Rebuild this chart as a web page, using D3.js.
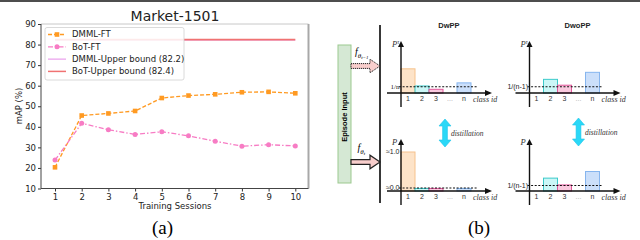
<!doctype html>
<html lang="en">
<head>
<meta charset="utf-8">
<script src="https://d3js.org/d3.v7.min.js"></script>
<style>
    html, body {
        margin: 0;
        padding: 0;
        background: #fff;
    }
    svg { display: block; }
    .chart text { font-family: "DejaVu Sans", sans-serif; fill: #222; }
    .sans { font-family: "Liberation Sans", Arial, sans-serif; }
    .serif { font-family: "Liberation Serif", "Times New Roman", serif; font-style: italic; }
</style>
</head>
<body>
<svg id="svg" width="640" height="240"></svg>
<script>
    // (a) mAP over training sessions
    var sessions = [1, 2, 3, 4, 5, 6, 7, 8, 9, 10];
    var dmmlFT = [20.3, 45.5, 46.5, 47.7, 54.0, 55.2, 55.8, 56.8, 57.0, 56.3];
    var botFT = [23.8, 41.7, 38.6, 36.3, 37.6, 35.6, 33.0, 30.6, 31.3, 30.7];
    var dmmlUpper = 82.2;
    var botUpper = 82.4;
    var yTicks = [10, 20, 30, 40, 50, 60, 70, 80, 90];
    var legendLabels = ["DMML-FT", "BoT-FT", "DMML-Upper bound (82.2)", "BoT-Upper bound (82.4)"];

    // (b) sketched class probabilities (null = no bar)
    var classIds = ["1", "2", "3", "...", "n"];
    var dwppTop = [0.62, 0.18, 0.095, null, 0.26];
    var dwoppTop = [null, 0.35, 0.2, null, 0.53];
    var dwppBottom = [1.0, 0.065, 0.065, null, 0.065];
    var dwoppBottom = [null, 0.33, 0.155, null, 0.5];

    var svg = d3.select("#svg");

    svg.append("rect").attr("x", 0).attr("y", 0).attr("width", 640).attr("height", 2).attr("fill", "#4d4d4d");

    // ---------------- (a) line chart ----------------
    var chart = svg.append("g").attr("class", "chart");
    var x = d3.scaleLinear().domain([1, 10]).range([55, 295.3]);
    var y = d3.scaleLinear().domain([10, 90]).range([188.5, 24]);

    var colOrange = "#ff9a22", colPink = "#f77cc4", colViolet = "#e58ae8", colRed = "#f07272";

    chart.append("text").attr("x", 175).attr("y", 20.5).attr("text-anchor", "middle")
        .style("font-size", "14px").text("Market-1501");

    var yAxis = chart.append("g").attr("transform", "translate(41,0)")
        .call(d3.axisLeft(y).tickValues(yTicks).tickSize(3).tickPadding(2));
    var xAxis = chart.append("g").attr("transform", "translate(0,188.5)")
        .call(d3.axisBottom(x).tickValues(sessions).tickSize(3).tickPadding(2.5));
    [yAxis, xAxis].forEach(function (a) {
        a.select(".domain").remove();
        a.selectAll("line").attr("stroke", "#333");
        a.selectAll("text").style("font-size", "8.5px").attr("fill", "#222")
            .style("font-family", "DejaVu Sans, sans-serif");
    });

    // frame
    chart.append("line").attr("x1", 41).attr("x2", 308.5).attr("y1", 24).attr("y2", 24).attr("stroke", "#c8c8c8");
    chart.append("line").attr("x1", 308.5).attr("x2", 308.5).attr("y1", 24).attr("y2", 188.5).attr("stroke", "#a8a8a8").attr("stroke-width", 2);
    chart.append("line").attr("x1", 41).attr("x2", 41).attr("y1", 24).attr("y2", 188.5).attr("stroke", "#444");
    chart.append("line").attr("x1", 41).attr("x2", 308.5).attr("y1", 188.5).attr("y2", 188.5).attr("stroke", "#444");

    chart.append("text").attr("transform", "translate(21.5,106) rotate(-90)").attr("text-anchor", "middle")
        .style("font-size", "8.5px").text("mAP (%)");
    chart.append("text").attr("x", 175).attr("y", 209).attr("text-anchor", "middle")
        .style("font-size", "8.5px").text("Training Sessions");

    var line = d3.line().x(function (d, i) { return x(sessions[i]); }).y(function (d) { return y(d); });

    chart.append("path").datum(dmmlFT).attr("d", line).attr("fill", "none")
        .attr("stroke", colOrange).attr("stroke-width", 1.3).attr("stroke-dasharray", "4,2");
    chart.selectAll(".sq").data(dmmlFT).enter().append("rect")
        .attr("x", function (d, i) { return x(sessions[i]) - 2.3; })
        .attr("y", function (d) { return y(d) - 2.3; })
        .attr("width", 4.6).attr("height", 4.6).attr("fill", colOrange);

    chart.append("path").datum(botFT).attr("d", line).attr("fill", "none")
        .attr("stroke", colPink).attr("stroke-width", 1.3).attr("stroke-dasharray", "5,2,1.5,2");
    chart.selectAll(".ci").data(botFT).enter().append("circle")
        .attr("cx", function (d, i) { return x(sessions[i]); })
        .attr("cy", function (d) { return y(d); })
        .attr("r", 2.5).attr("fill", colPink);

    chart.append("line").attr("x1", x(1)).attr("x2", x(10)).attr("y1", y(dmmlUpper)).attr("y2", y(dmmlUpper))
        .attr("stroke", colViolet).attr("stroke-width", 0.9);
    chart.append("line").attr("x1", x(1)).attr("x2", x(10)).attr("y1", y(botUpper)).attr("y2", y(botUpper))
        .attr("stroke", colRed).attr("stroke-width", 1.6);

    // legend
    var lg = chart.append("g");
    lg.append("rect").attr("x", 45).attr("y", 27.5).attr("width", 139).attr("height", 52.5).attr("rx", 2)
        .attr("fill", "#fff").attr("fill-opacity", 0.85).attr("stroke", "#d0d0d0").attr("stroke-width", 0.8);
    var legendStyle = [
        {c: colOrange, dash: "4,2", mark: "sq", w: 1.3},
        {c: colPink, dash: "5,2,1.5,2", mark: "ci", w: 1.3},
        {c: colViolet, dash: null, mark: null, w: 1},
        {c: colRed, dash: null, mark: null, w: 1.5}
    ];
    legendLabels.forEach(function (lab, i) {
        var ly = 34.5 + i * 12.3, s = legendStyle[i];
        lg.append("line").attr("x1", 48).attr("x2", 66).attr("y1", ly).attr("y2", ly)
            .attr("stroke", s.c).attr("stroke-width", s.w).attr("stroke-dasharray", s.dash);
        if (s.mark === "sq") lg.append("rect").attr("x", 54.7).attr("y", ly - 2.3).attr("width", 4.6).attr("height", 4.6).attr("fill", s.c);
        if (s.mark === "ci") lg.append("circle").attr("cx", 57).attr("cy", ly).attr("r", 2.5).attr("fill", s.c);
        lg.append("text").attr("x", 72).attr("y", ly).attr("dy", "0.35em").style("font-size", "8.5px").text(lab);
    });

    svg.append("text").attr("x", 162.5).attr("y", 234).attr("text-anchor", "middle")
        .style("font-family", "Liberation Serif, Times New Roman, serif").style("font-size", "19px").text("(a)");

    // ---------------- (b) diagram ----------------
    var diag = svg.append("g");
    var classFill = ["#fde3c8", "#cbf7f7", "#f9c9de", null, "#cbdffa"];
    var classStroke = ["#f6c28d", "#3ccaca", "#e2579b", null, "#86b5ee"];

    // episode input box
    diag.append("rect").attr("x", 338).attr("y", 45).attr("width", 13).attr("height", 138)
        .attr("fill", "#d5e8d4").attr("stroke", "#9cc98f").attr("stroke-width", 1);
    diag.append("text").attr("class", "sans").attr("transform", "translate(347.3,117) rotate(-90)")
        .attr("text-anchor", "middle").style("font-size", "7.5px").style("font-weight", "bold").text("Episode Input");

    diag.append("line").attr("x1", 380).attr("x2", 380).attr("y1", 25).attr("y2", 203)
        .attr("stroke", "#222").attr("stroke-width", 1.8);

    function blockArrow(x1, x2, yc, dashed) {
        var sh = 2.4, hh = 6.8, hl = 10;
        var p = d3.path();
        p.moveTo(x1, yc - sh); p.lineTo(x2 - hl, yc - sh); p.lineTo(x2 - hl, yc - hh); p.lineTo(x2, yc);
        p.lineTo(x2 - hl, yc + hh); p.lineTo(x2 - hl, yc + sh); p.lineTo(x1, yc + sh); p.closePath();
        diag.append("path").attr("d", p.toString()).attr("fill", "#f8cecc").attr("stroke", "#222")
            .attr("stroke-width", dashed ? 1 : 1.2).attr("stroke-dasharray", dashed ? "1.2,0.8" : null);
    }
    blockArrow(351, 380, 66, true);
    blockArrow(351, 380, 162, false);

    function fLabel(xp, yp, sub) {
        var t = diag.append("text").attr("class", "serif").attr("x", xp).attr("y", yp).style("font-size", "10px");
        t.append("tspan").text("f");
        t.append("tspan").attr("dy", 2.5).style("font-size", "7px").text("θ");
        t.append("tspan").attr("dy", 1.5).style("font-size", "5px").text(sub);
    }
    fLabel(355, 55, "t−1");
    fLabel(357.5, 151, "t");

    function drawPanel(cfg) {
        var g = diag.append("g");
        var xb = d3.scaleBand().domain(classIds).range([cfg.x0, cfg.x0 + 70]);
        var yp = d3.scaleLinear().domain([0, 1]).range([cfg.axisY, cfg.axisY - 39]);

        cfg.values.forEach(function (v, i) {
            if (v === null) return;
            g.append("rect").attr("x", xb(classIds[i])).attr("y", yp(v))
                .attr("width", xb.bandwidth()).attr("height", yp(0) - yp(v))
                .attr("fill", classFill[i]).attr("stroke", classStroke[i]).attr("stroke-width", 1);
        });

        if (cfg.refLine !== null) {
            g.append("line").attr("x1", cfg.x0 - 2).attr("x2", cfg.x0 + cfg.refLen)
                .attr("y1", yp(cfg.refLine)).attr("y2", yp(cfg.refLine))
                .attr("stroke", "#111").attr("stroke-width", 1.1).attr("stroke-dasharray", "2,1.6");
        }
        cfg.refLabels.forEach(function (r) {
            g.append("text").attr("class", r.serif ? "serif" : "sans").attr("x", cfg.x0 - 1.5).attr("y", yp(r.v))
                .attr("dy", "0.35em").attr("text-anchor", "end").style("font-size", "7px")
                .style("font-style", "normal").attr("fill", "#222").text(r.t);
        });

        // axes with arrow heads
        g.append("line").attr("x1", cfg.x0 - 14).attr("x2", cfg.x0 + 88).attr("y1", cfg.axisY).attr("y2", cfg.axisY)
            .attr("stroke", "#111").attr("stroke-width", 1.4);
        g.append("path").attr("d", d3.line()([[cfg.x0 + 84, cfg.axisY - 3], [cfg.x0 + 91, cfg.axisY], [cfg.x0 + 84, cfg.axisY + 3]]) + "Z")
            .attr("fill", "#111");
        g.append("line").attr("x1", cfg.x0).attr("x2", cfg.x0).attr("y1", cfg.axisY + 14).attr("y2", cfg.axisY - 48)
            .attr("stroke", "#111").attr("stroke-width", 1.4);
        g.append("path").attr("d", d3.line()([[cfg.x0 - 3, cfg.axisY - 46], [cfg.x0, cfg.axisY - 52], [cfg.x0 + 3, cfg.axisY - 46]]) + "Z")
            .attr("fill", "#111");

        classIds.forEach(function (c) {
            g.append("text").attr("class", "sans").attr("x", xb(c) + xb.bandwidth() / 2).attr("y", cfg.axisY + 8)
                .attr("text-anchor", "middle").style("font-size", "7px")
                .attr("fill", c === "..." ? "#aaa" : "#333").text(c);
        });
        g.append("text").attr("class", "serif").attr("x", cfg.x0 + 72).attr("y", cfg.axisY + 8.5)
            .style("font-size", "8px").attr("fill", "#333").text("class id");

        var pl = g.append("text").attr("class", "serif").attr("x", cfg.x0 - 9).attr("y", cfg.axisY - 46)
            .style("font-size", "8.5px").attr("fill", "#333");
        pl.append("tspan").text("P");
        if (cfg.tau) pl.append("tspan").attr("dy", -3).style("font-size", "5.5px").text("τ");

        if (cfg.title) {
            g.append("text").attr("class", "sans").attr("x", cfg.x0 + 48).attr("y", 27.5).attr("text-anchor", "middle")
                .style("font-size", "7.5px").style("font-weight", "bold").attr("fill", "#222").text(cfg.title);
        }
    }

    drawPanel({x0: 401, axisY: 93, values: dwppTop, refLine: 0.16, refLen: 76, tau: true, title: "DwPP",
        refLabels: [{v: 0.16, t: "1/n", serif: true}]});
    drawPanel({x0: 529.5, axisY: 93, values: dwoppTop, refLine: 0.16, refLen: 73, tau: true, title: "DwoPP",
        refLabels: [{v: 0.16, t: "1/(n-1)"}]});
    drawPanel({x0: 401, axisY: 191, values: dwppBottom, refLine: 0.077, refLen: 76, tau: false, title: null,
        refLabels: [{v: 1.0, t: "≈1.0"}, {v: 0.077, t: "≈0.0"}]});
    drawPanel({x0: 529.5, axisY: 191, values: dwoppBottom, refLine: 0.14, refLen: 73, tau: false, title: null,
        refLabels: [{v: 0.14, t: "1/(n-1)"}]});

    function doubleArrow(xc, y1, y2) {
        var sw = 2.4, hw = 6, hl = 7;
        var p = d3.path();
        p.moveTo(xc, y1); p.lineTo(xc + hw, y1 + hl); p.lineTo(xc + sw, y1 + hl); p.lineTo(xc + sw, y2 - hl);
        p.lineTo(xc + hw, y2 - hl); p.lineTo(xc, y2); p.lineTo(xc - hw, y2 - hl); p.lineTo(xc - sw, y2 - hl);
        p.lineTo(xc - sw, y1 + hl); p.lineTo(xc - hw, y1 + hl); p.closePath();
        diag.append("path").attr("d", p.toString()).attr("fill", "#2ad8f7").attr("stroke", "#1cc4ea").attr("stroke-width", 0.6);
    }
    doubleArrow(445, 119, 147);
    doubleArrow(578.5, 118, 146);
    diag.append("text").attr("class", "serif").attr("x", 451).attr("y", 136).style("font-size", "7.5px").attr("fill", "#333").text("distillation");
    diag.append("text").attr("class", "serif").attr("x", 585).attr("y", 135).style("font-size", "7.5px").attr("fill", "#333").text("distillation");

    svg.append("text").attr("x", 479).attr("y", 234).attr("text-anchor", "middle")
        .style("font-family", "Liberation Serif, Times New Roman, serif").style("font-size", "19px").text("(b)");
</script>
</body>
</html>
